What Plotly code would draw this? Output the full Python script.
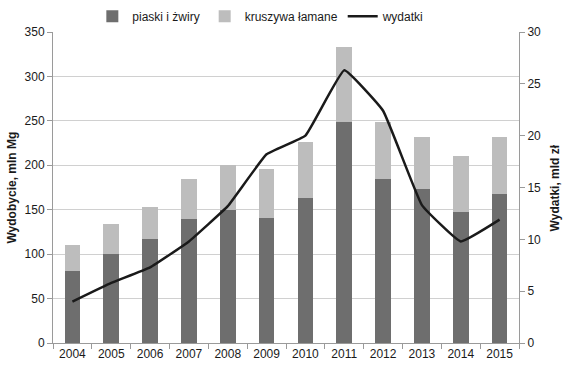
import plotly.graph_objects as go

years = ["2004", "2005", "2006", "2007", "2008", "2009", "2010", "2011", "2012", "2013", "2014", "2015"]
piaski = [81, 100, 117, 139, 150, 141, 163, 249, 185, 173, 147, 168]
total = [110, 134, 153, 185, 200, 196, 226, 333, 249, 232, 210, 232]
kruszywa = [t - p for t, p in zip(total, piaski)]
wydatki = [4.0, 5.8, 7.3, 9.8, 13.2, 18.2, 20.0, 26.3, 22.4, 13.3, 9.8, 11.9]

fig = go.Figure()
fig.add_trace(go.Bar(x=years, y=piaski, name="piaski i żwiry", marker_color="#6e6e6e",
                     marker_line_width=0))
fig.add_trace(go.Bar(x=years, y=kruszywa, name="kruszywa łamane", marker_color="#bdbdbd",
                     marker_line_width=0))
fig.add_trace(go.Scatter(x=years, y=wydatki, name="wydatki", mode="lines", yaxis="y2",
                         line=dict(color="#1a1a1a", width=2.5, shape="spline", smoothing=0.3)))

axis_font = dict(family="Liberation Sans, Arial, sans-serif", size=12, color="#1a1a1a")
title_font = dict(family="Liberation Sans, Arial, sans-serif", size=12, color="#1a1a1a")
fig.update_layout(
    width=569, height=372,
    barmode="stack", bargap=0.6,
    plot_bgcolor="white", paper_bgcolor="white",
    margin=dict(l=53, r=50, t=32, b=29, autoexpand=False),
    font=axis_font,
    showlegend=True,
    legend=dict(orientation="h", x=0.446, xanchor="center", y=0.995, yanchor="top",
                yref="container", traceorder="normal", font=dict(size=12),
                itemwidth=30, bgcolor="rgba(0,0,0,0)"),
    xaxis=dict(type="category", showline=True, linecolor="#9a9a9a", linewidth=1,
               ticks="outside", tickson="boundaries", ticklen=5, tickcolor="#9a9a9a",
               showgrid=False, tickfont=axis_font),
    yaxis=dict(range=[0, 350], dtick=50, showline=True, linecolor="#9a9a9a", linewidth=1,
               ticks="outside", ticklen=5, tickcolor="#9a9a9a",
               gridcolor="#d0d0d0", gridwidth=1, zeroline=False, tickfont=axis_font,
               automargin=False),
    yaxis2=dict(range=[0, 30], dtick=5, overlaying="y", side="right", showline=True,
                linecolor="#9a9a9a", linewidth=1, ticks="outside", ticklen=5,
                tickcolor="#9a9a9a", showgrid=False, zeroline=False, tickfont=axis_font,
                automargin=False),
    annotations=[
        dict(text="<b>Wydobycie, mln Mg</b>", xref="paper", yref="paper", x=-0.088, y=0.5,
             xanchor="center", yanchor="middle", textangle=-90, showarrow=False, font=title_font),
        dict(text="<b>Wydatki, mld zł</b>", xref="paper", yref="paper", x=1.077, y=0.5,
             xanchor="center", yanchor="middle", textangle=-90, showarrow=False, font=title_font),
    ],
)
fig.write_html("out.html", config={"displayModeBar": False},
               post_script="document.body.style.margin='0';")
